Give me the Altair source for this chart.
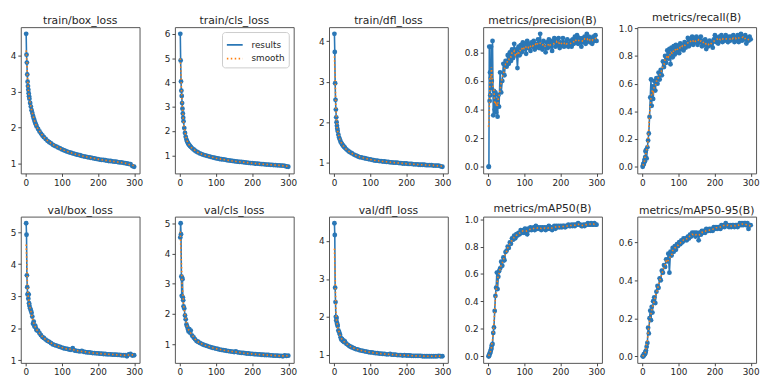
import altair as alt
import pandas as pd

EPOCHS = [1, 2, 3, 4, 5, 6, 7, 8, 9, 10,
          12, 14, 16, 18, 20, 22, 24, 26, 28, 30,
          34, 38, 42, 46,
          50, 55, 60, 65, 70, 75, 80, 85, 90, 95,
          100, 105, 110, 115, 120, 125, 130, 135, 140, 145,
          150, 155, 160, 165, 170, 175, 180, 185, 190, 195,
          200, 205, 210, 215, 220, 225, 230, 235, 240, 245,
          250, 255, 260, 265, 270, 275, 280, 285, 290, 295,
          300]

METRIC_EPOCHS = [1, 2, 3, 4, 5, 6, 7, 8, 9, 10,
                 12, 14, 16, 18, 20, 22, 24, 26, 28, 30,
                 33, 36, 39, 42, 45, 48, 51, 54, 57, 60,
                 63, 66, 69, 72, 75, 78, 81, 84, 87, 90,
                 93, 96, 99, 102, 105, 108, 111, 114, 117, 120,
                 123, 126, 129, 132, 135, 138, 141, 144, 147, 150,
                 153, 156, 159, 162, 165, 168, 171, 174, 177, 180,
                 183, 186, 189, 192, 195, 198, 201, 204, 207, 210,
                 213, 216, 219, 222, 225, 228, 231, 234, 237, 240,
                 243, 246, 249, 252, 255, 258, 261, 264, 267, 270,
                 273, 276, 279, 282, 285, 288, 291, 294, 297, 300]

TRAIN_BOX = [4.60, 4.02, 3.80, 3.47, 3.27, 3.15, 3.05, 2.95, 2.87, 2.80,
             2.68, 2.58, 2.48, 2.40, 2.32, 2.25, 2.19, 2.13, 2.08, 2.03,
             1.96, 1.89, 1.83, 1.78,
             1.73, 1.68, 1.63, 1.59, 1.56, 1.52, 1.49, 1.47, 1.44, 1.42,
             1.39, 1.37, 1.35, 1.33, 1.31, 1.30, 1.28, 1.27, 1.25, 1.24,
             1.23, 1.21, 1.20, 1.19, 1.18, 1.17, 1.16, 1.15, 1.14, 1.13,
             1.12, 1.11, 1.10, 1.10, 1.09, 1.08, 1.07, 1.07, 1.06, 1.05,
             1.05, 1.04, 1.03, 1.03, 1.02, 1.01, 1.00, 0.99, 0.98, 0.93,
             0.91]

TRAIN_CLS = [6.00, 4.90, 4.04, 3.66, 3.44, 3.15, 2.92, 2.72, 2.55, 2.40,
             2.12, 1.92, 1.76, 1.65, 1.57, 1.51, 1.46, 1.42, 1.38, 1.35,
             1.29, 1.24, 1.19, 1.15,
             1.12, 1.08, 1.05, 1.02, 1.00, 0.98, 0.96, 0.94, 0.92, 0.90,
             0.88, 0.87, 0.85, 0.84, 0.83, 0.82, 0.80, 0.79, 0.78, 0.77,
             0.76, 0.75, 0.74, 0.73, 0.73, 0.72, 0.71, 0.70, 0.69, 0.68,
             0.68, 0.67, 0.66, 0.66, 0.65, 0.64, 0.64, 0.63, 0.62, 0.62,
             0.61, 0.61, 0.60, 0.60, 0.59, 0.59, 0.58, 0.58, 0.57, 0.54,
             0.53]

TRAIN_DFL = [4.18, 3.73, 2.96, 2.55, 2.31, 2.12, 2.00, 1.91, 1.84, 1.78,
             1.69, 1.62, 1.57, 1.52, 1.49, 1.46, 1.43, 1.41, 1.39, 1.37,
             1.33, 1.30, 1.27, 1.25,
             1.23, 1.20, 1.18, 1.16, 1.14, 1.13, 1.12, 1.11, 1.10, 1.09,
             1.08, 1.07, 1.06, 1.05, 1.05, 1.04, 1.04, 1.03, 1.03, 1.02,
             1.02, 1.01, 1.01, 1.00, 1.00, 1.00, 0.99, 0.99, 0.98, 0.98,
             0.98, 0.97, 0.97, 0.97, 0.96, 0.96, 0.96, 0.95, 0.95, 0.95,
             0.95, 0.94, 0.94, 0.94, 0.94, 0.93, 0.93, 0.93, 0.93, 0.91,
             0.90]

PRECISION = [0.00, 0.00, 0.84, 0.46, 0.66, 0.50, 0.62, 0.84, 0.55, 0.60,
             0.88, 0.36, 0.53, 0.40, 0.52, 0.38, 0.47, 0.35, 0.50, 0.42,
             0.66, 0.52, 0.60, 0.72, 0.64, 0.74, 0.70, 0.78, 0.72, 0.80,
             0.74, 0.82, 0.76, 0.86, 0.78, 0.82, 0.69, 0.84, 0.78, 0.85,
             0.80, 0.87, 0.82, 0.86, 0.79, 0.88, 0.83, 0.86, 0.81, 0.87,
             0.84, 0.88, 0.82, 0.86, 0.84, 0.89, 0.83, 0.93, 0.85, 0.82,
             0.88, 0.84, 0.80, 0.87, 0.83, 0.89, 0.84, 0.88, 0.81, 0.87,
             0.90, 0.84, 0.89, 0.85, 0.90, 0.83, 0.87, 0.85, 0.90, 0.84,
             0.87, 0.85, 0.89, 0.84, 0.86, 0.88, 0.84, 0.89, 0.86, 0.91,
             0.87, 0.92, 0.86, 0.90, 0.88, 0.84, 0.90, 0.87, 0.91, 0.86,
             0.93, 0.88, 0.91, 0.87, 0.90, 0.86, 0.91, 0.88, 0.92, 0.88]

RECALL = [0.00, 0.01, 0.02, 0.02, 0.03, 0.05, 0.04, 0.07, 0.11, 0.12,
          0.06, 0.14, 0.19, 0.24, 0.36, 0.50, 0.63, 0.44, 0.58, 0.49,
          0.62, 0.55, 0.64, 0.60, 0.68, 0.63, 0.70, 0.66, 0.76, 0.72,
          0.80, 0.75, 0.84, 0.78, 0.85, 0.74, 0.86, 0.79, 0.87, 0.81,
          0.88, 0.83, 0.87, 0.82, 0.89, 0.85, 0.88, 0.84, 0.90, 0.86,
          0.89, 0.93, 0.87, 0.92, 0.89, 0.94, 0.88, 0.93, 0.90, 0.94,
          0.88, 0.92, 0.90, 0.94, 0.87, 0.91, 0.88, 0.92, 0.85, 0.90,
          0.87, 0.91, 0.88, 0.90, 0.86, 0.92, 0.95, 0.90, 0.93, 0.89,
          0.94, 0.91, 0.95, 0.90, 0.93, 0.91, 0.95, 0.92, 0.90, 0.94,
          0.91, 0.94, 0.92, 0.95, 0.90, 0.93, 0.91, 0.95, 0.90, 0.93,
          0.96, 0.91, 0.94, 0.92, 0.95, 0.89, 0.93, 0.91, 0.94, 0.92]

VAL_BOX = [5.28, 4.92, 3.65, 3.28, 3.05, 3.08, 2.92, 3.05, 2.78, 2.70,
           2.62, 2.55, 2.48, 2.36, 2.14, 2.20, 2.05, 2.08, 2.00, 1.93,
           1.92, 1.84, 1.78, 1.72,
           1.69, 1.64, 1.60, 1.57, 1.53, 1.49, 1.47, 1.45, 1.43, 1.41,
           1.39, 1.37, 1.36, 1.35, 1.33, 1.32, 1.37, 1.30, 1.29, 1.28,
           1.27, 1.29, 1.26, 1.25, 1.24, 1.24, 1.23, 1.22, 1.22, 1.21,
           1.21, 1.20, 1.20, 1.19, 1.19, 1.18, 1.18, 1.18, 1.17, 1.17,
           1.17, 1.16, 1.16, 1.15, 1.15, 1.15, 1.12, 1.18, 1.19, 1.14,
           1.15]

VAL_CLS = [4.53, 5.00, 4.64, 3.24, 2.60, 3.20, 3.15, 2.55, 2.45, 2.25,
           2.18, 1.95, 1.82, 1.65, 1.58, 1.50, 1.42, 1.50, 1.38, 1.45,
           1.28, 1.22, 1.16, 1.10,
           1.08, 1.04, 1.01, 0.98, 0.96, 0.94, 0.92, 0.90, 0.88, 0.87,
           0.85, 0.84, 0.82, 0.81, 0.80, 0.79, 0.78, 0.77, 0.76, 0.75,
           0.74, 0.76, 0.73, 0.72, 0.71, 0.71, 0.70, 0.69, 0.69, 0.68,
           0.68, 0.67, 0.67, 0.66, 0.66, 0.65, 0.65, 0.64, 0.64, 0.64,
           0.63, 0.63, 0.62, 0.62, 0.62, 0.61, 0.61, 0.60, 0.63, 0.61,
           0.62]

VAL_DFL = [4.47, 4.16, 2.77, 2.39, 2.00, 1.90, 1.97, 1.84, 1.80, 1.76,
           1.64, 1.60, 1.54, 1.46, 1.40, 1.42, 1.36, 1.38, 1.33, 1.35,
           1.29, 1.26, 1.23, 1.21,
           1.19, 1.17, 1.15, 1.14, 1.12, 1.11, 1.10, 1.09, 1.08, 1.07,
           1.06, 1.06, 1.05, 1.04, 1.04, 1.03, 1.03, 1.02, 1.02, 1.01,
           1.01, 1.02, 1.00, 1.00, 1.00, 0.99, 0.99, 0.99, 0.98, 0.99,
           0.98, 0.98, 0.98, 0.97, 0.97, 0.97, 0.97, 0.97, 0.97, 0.96,
           0.96, 0.96, 0.96, 0.96, 0.96, 0.96, 0.96, 0.96, 0.97, 0.96,
           0.96]

MAP50 = [0.00, 0.00, 0.01, 0.02, 0.02, 0.03, 0.04, 0.05, 0.06, 0.08,
         0.09, 0.17, 0.21, 0.33, 0.44, 0.50, 0.61, 0.49, 0.58, 0.62,
         0.64, 0.69, 0.66, 0.72, 0.70, 0.76, 0.77, 0.80, 0.79, 0.83,
         0.82, 0.86, 0.85, 0.88, 0.86, 0.89, 0.88, 0.90, 0.89, 0.92,
         0.90, 0.92, 0.90, 0.93, 0.91, 0.89, 0.93, 0.92, 0.94, 0.92,
         0.93, 0.94, 0.92, 0.95, 0.93, 0.94, 0.93, 0.94, 0.92, 0.94,
         0.93, 0.94, 0.92, 0.94, 0.93, 0.95, 0.93, 0.94, 0.92, 0.94,
         0.95, 0.93, 0.95, 0.94, 0.95, 0.94, 0.95, 0.94, 0.95, 0.95,
         0.94, 0.95, 0.95, 0.96, 0.95, 0.95, 0.96, 0.95, 0.96, 0.95,
         0.96, 0.96, 0.97, 0.96, 0.96, 0.95, 0.95, 0.96, 0.95, 0.96,
         0.96, 0.97, 0.96, 0.96, 0.97, 0.96, 0.96, 0.97, 0.96, 0.96]

MAP50_95 = [0.00, 0.00, 0.00, 0.01, 0.01, 0.01, 0.01, 0.02, 0.02, 0.03,
            0.05, 0.07, 0.15, 0.12, 0.20, 0.24, 0.19, 0.26, 0.23, 0.29,
            0.31, 0.28, 0.34, 0.37, 0.36, 0.41, 0.40, 0.45, 0.44, 0.48,
            0.47, 0.51, 0.50, 0.54, 0.44, 0.55, 0.53, 0.57, 0.55, 0.58,
            0.56, 0.59, 0.58, 0.60, 0.59, 0.61, 0.60, 0.62, 0.61, 0.62,
            0.61, 0.63, 0.62, 0.64, 0.63, 0.65, 0.64, 0.65, 0.63, 0.65,
            0.64, 0.61, 0.65, 0.64, 0.66, 0.65, 0.66, 0.65, 0.67, 0.66,
            0.66, 0.67, 0.66, 0.67, 0.66, 0.68, 0.67, 0.68, 0.67, 0.68,
            0.68, 0.67, 0.69, 0.68, 0.69, 0.68, 0.70, 0.69, 0.69, 0.68,
            0.69, 0.68, 0.69, 0.69, 0.68, 0.69, 0.69, 0.68, 0.69, 0.70,
            0.69, 0.70, 0.69, 0.70, 0.70, 0.69, 0.70, 0.67, 0.69, 0.69]

TITLES_TOP = ["train/box_loss", "train/cls_loss", "train/dfl_loss",
              "metrics/precision(B)", "metrics/recall(B)"]
TITLES_BOTTOM = ["val/box_loss", "val/cls_loss", "val/dfl_loss",
                 "metrics/mAP50(B)", "metrics/mAP50-95(B)"]
SERIES_TOP = [TRAIN_BOX, TRAIN_CLS, TRAIN_DFL, PRECISION, RECALL]
SERIES_BOTTOM = [VAL_BOX, VAL_CLS, VAL_DFL, MAP50, MAP50_95]
X_TOP = [EPOCHS, EPOCHS, EPOCHS, METRIC_EPOCHS, METRIC_EPOCHS]
X_BOTTOM = [EPOCHS, EPOCHS, EPOCHS, METRIC_EPOCHS, METRIC_EPOCHS]
YTICKS_TOP = [[1, 2, 3, 4], [1, 2, 3, 4, 5, 6], [1, 2, 3, 4],
              [0.0, 0.2, 0.4, 0.6, 0.8], [0.0, 0.2, 0.4, 0.6, 0.8, 1.0]]
YTICKS_BOTTOM = [[1, 2, 3, 4, 5], [1, 2, 3, 4, 5], [1, 2, 3, 4],
                 [0.0, 0.2, 0.4, 0.6, 0.8, 1.0], [0.0, 0.2, 0.4, 0.6]]
XTICKS = [0, 100, 200, 300]
LEGEND_LABELS = ["results", "smooth"]

BLUE = "#2a77b6"
ORANGE = "#ff7f0e"
W, H = 121, 149


def panel(title, epochs, values, yticks, col, legend=False):
    df = pd.DataFrame({"epoch": epochs, "value": values, "series": "results"})
    lo, hi = min(values), max(values)
    pad = 0.05 * (hi - lo)
    fmt = ".0f" if isinstance(yticks[0], int) else ".1f"
    xpad = 0.05 * (epochs[-1] - epochs[0])
    x = alt.X("epoch:Q",
              scale=alt.Scale(domain=[epochs[0] - xpad, epochs[-1] + xpad], nice=False, zero=False),
              axis=alt.Axis(values=XTICKS, title=None, format="d", minExtent=16))
    yscale = alt.Scale(domain=[lo - pad, hi + pad], nice=False, zero=False)
    yaxis = alt.Axis(values=yticks, format=fmt, title=None,
                     minExtent=12 if col == 0 else 24)
    base = alt.Chart(df)
    if legend:
        leg = alt.Legend(title=None, orient="top-right", offset=5, fillColor="white",
                         strokeColor="#cccccc", padding=4, cornerRadius=3,
                         labelFontSize=9, labelColor="#262626", symbolType="stroke",
                         symbolSize=260, symbolStrokeWidth=1.8, rowPadding=0,
                         labelOffset=8)
        color = alt.Color("series:N", scale=alt.Scale(domain=LEGEND_LABELS, range=[BLUE, ORANGE]), legend=leg)
        dash = alt.StrokeDash("series:N", scale=alt.Scale(domain=LEGEND_LABELS, range=[[1, 0], [1.5, 2.5]]), legend=leg)
        line = base.mark_line(strokeWidth=1.6).encode(x=x, y=alt.Y("value:Q", scale=yscale, axis=yaxis),
                                                      color=color, strokeDash=dash)
    else:
        line = base.mark_line(strokeWidth=1.6, color=BLUE).encode(
            x=x, y=alt.Y("value:Q", scale=yscale, axis=yaxis))
    pts = base.mark_circle(size=24, color=BLUE, opacity=1).encode(
        x=x, y=alt.Y("value:Q", scale=yscale, axis=yaxis))
    sm = base.transform_window(smooth="mean(value)", frame=[-2, 2],
                               sort=[alt.SortField("epoch")]).transform_calculate(series="'smooth'")
    if legend:
        smooth = sm.mark_line(strokeWidth=1.6).encode(
            x=x, y=alt.Y("smooth:Q", scale=yscale, axis=yaxis), color=color, strokeDash=dash)
    else:
        smooth = sm.mark_line(strokeWidth=1.6, color=ORANGE, strokeDash=[1.5, 2.5]).encode(
            x=x, y=alt.Y("smooth:Q", scale=yscale, axis=yaxis))
    return alt.layer(line, pts, smooth).properties(
        width=W, height=H, title=alt.TitleParams(title))


row1 = alt.hconcat(*[panel(t, e, s, yt, i, legend=(i == 1))
                     for i, (t, e, s, yt) in enumerate(zip(TITLES_TOP, X_TOP, SERIES_TOP, YTICKS_TOP))],
                   spacing=7).resolve_scale(color="independent", strokeDash="independent")
row2 = alt.hconcat(*[panel(t, e, s, yt, i)
                     for i, (t, e, s, yt) in enumerate(zip(TITLES_BOTTOM, X_BOTTOM, SERIES_BOTTOM, YTICKS_BOTTOM))],
                   spacing=7)

chart = alt.vconcat(row1, row2, spacing=13).properties(
    padding=0, background="white"
).configure_view(
    stroke="#555555", strokeWidth=1
).configure_axis(
    domain=False, grid=False, tickColor="#444444", tickSize=3, labelPadding=2,
    labelFontSize=9, labelFont="DejaVu Sans", labelColor="#262626"
).configure_title(
    fontSize=11, font="DejaVu Sans", fontWeight="normal", color="#262626", offset=1
).configure_legend(labelFont="DejaVu Sans")

chart.save("out.html", embed_options={"renderer": "svg", "actions": False})
